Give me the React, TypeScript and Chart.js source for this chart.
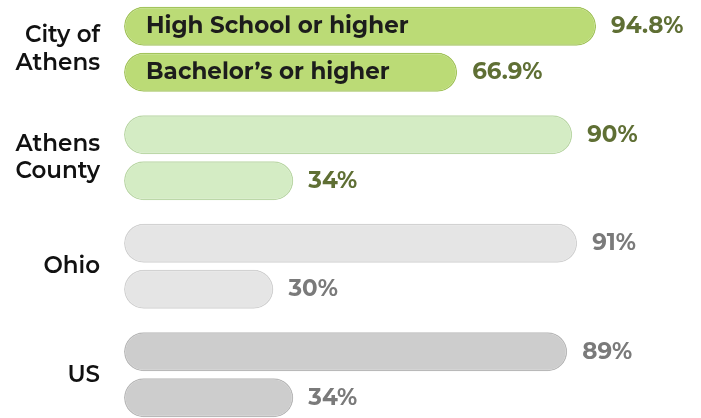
import React, { useEffect, useRef } from "react";
import { Chart, registerables } from "chart.js";

Chart.register(...registerables);

const places: string[][] = [["City of", "Athens"], ["Athens", "County"], ["Ohio"], ["US"]];
const seriesNames = ["High School or higher", "Bachelor’s or higher"];
const highSchool = [94.8, 90, 91, 89];
const bachelors = [66.9, 34, 30, 34];
const valueLabels = [["94.8%", "90%", "91%", "89%"], ["66.9%", "34%", "30%", "34%"]];
const fillColors = ["#bbdb76", "#d4ecc4", "#e5e5e5", "#cdcdcd"];
const borderColors = ["#a3c45c", "#bcd8a8", "#d2d2d2", "#b9b9b9"];
const textColors = ["#5f6f34", "#5f6f34", "#7a7a7a", "#7a7a7a"];

const FONT = "Montserrat, 'Open Sans', 'Noto Sans', sans-serif";

const labelPlugin = {
  id: "barLabels",
  afterDatasetsDraw(chart: any) {
    const ctx = chart.ctx;
    ctx.save();
    chart.data.datasets.forEach((ds: any, di: number) => {
      const meta = chart.getDatasetMeta(di);
      meta.data.forEach((bar: any, i: number) => {
        ctx.font = `700 23px ${FONT}`;
        ctx.fillStyle = textColors[i];
        ctx.textAlign = "left";
        ctx.textBaseline = "middle";
        ctx.fillText(valueLabels[di][i], bar.x + 15, bar.y);
        if (i === 0) {
          ctx.font = `700 23px ${FONT}`;
          ctx.fillStyle = "#1c1c1c";
          ctx.fillText(ds.label, bar.base + 22, bar.y);
        }
      });
    });
    ctx.restore();
  },
};

export default function App() {
  const ref = useRef<HTMLCanvasElement>(null);
  useEffect(() => {
    if (!ref.current) return;
    const mk = (label: string, data: number[]) => ({
      label,
      data,
      backgroundColor: fillColors,
      borderColor: borderColors,
      borderWidth: 1.5,
      borderRadius: 20,
      borderSkipped: false,
      categoryPercentage: 0.848,
      barPercentage: 0.85,
    });
    const chart = new Chart(ref.current, {
      type: "bar",
      data: {
        labels: places,
        datasets: [mk(seriesNames[0], highSchool), mk(seriesNames[1], bachelors)],
      },
      options: {
        indexAxis: "y",
        animation: false,
        responsive: true,
        maintainAspectRatio: false,
        layout: { padding: { top: 0, bottom: 0, left: 0, right: 79 } },
        plugins: { legend: { display: false }, tooltip: { enabled: false } },
        scales: {
          x: { display: false, min: 0, max: 100 },
          y: {
            grid: { display: false },
            border: { display: false },
            afterFit: (s: any) => {
              s.width = 124;
              s.paddingTop = 0;
              s.paddingBottom = 0;
            },
            ticks: {
              padding: 16,
              color: "#111111",
              font: { family: FONT, size: 23, weight: 600, lineHeight: 1.2 },
            },
          },
        },
      },
      plugins: [labelPlugin],
    });
    return () => chart.destroy();
  }, []);
  return (
    <div style={{ position: "absolute", left: 0, top: -5, width: 701, height: 434 }}>
      <canvas ref={ref} />
    </div>
  );
}
